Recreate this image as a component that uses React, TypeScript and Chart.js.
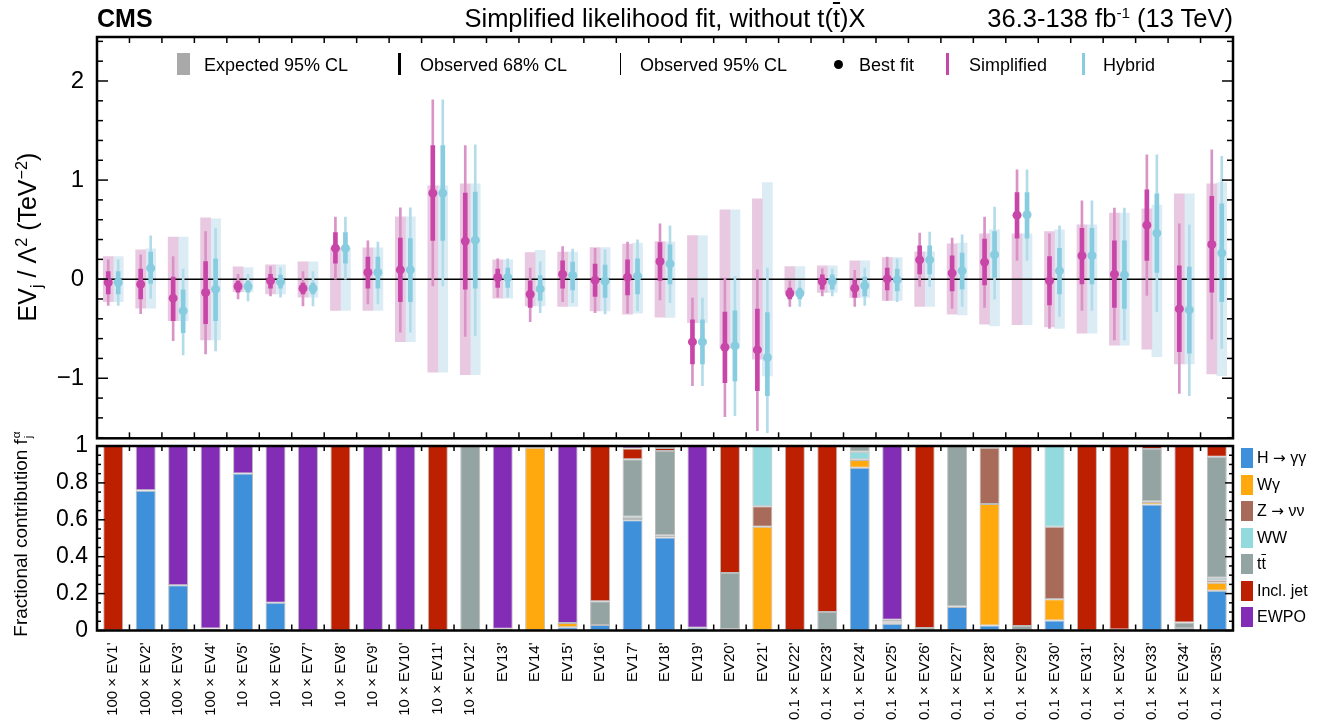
import React, { useEffect, useRef } from 'react';
import { Chart, registerables } from 'chart.js';
Chart.register(...registerables);

const FONT = "'Liberation Sans', Arial, Helvetica, sans-serif";

const LABELS = [
  "100 × EV1'", "100 × EV2'", "100 × EV3'", "100 × EV4'",
  "10 × EV5'", "10 × EV6'", "10 × EV7'", "10 × EV8'", "10 × EV9'", "10 × EV10'", "10 × EV11'", "10 × EV12'",
  "EV13'", "EV14'", "EV15'", "EV16'", "EV17'", "EV18'", "EV19'", "EV20'", "EV21'",
  "0.1 × EV22'", "0.1 × EV23'", "0.1 × EV24'", "0.1 × EV25'", "0.1 × EV26'", "0.1 × EV27'", "0.1 × EV28'",
  "0.1 × EV29'", "0.1 × EV30'", "0.1 × EV31'", "0.1 × EV32'", "0.1 × EV33'", "0.1 × EV34'", "0.1 × EV35'",
];

// ---- Upper panel: Simplified likelihood ----
const SIMP_BEST = [-0.034, -0.051, -0.192, -0.135, -0.074, -0.017, -0.094, 0.313, 0.067, 0.094, 0.869, 0.384, 0.017, -0.152, 0.05, -0.01, 0.02, 0.178, -0.633, -0.687, -0.714, -0.145, -0.024, -0.091, 0.003, 0.195, 0.061, 0.172, 0.646, -0.017, 0.236, 0.05, 0.545, -0.30, 0.35];
const SIMP_68_LO = [-0.148, -0.199, -0.418, -0.448, -0.13, -0.09, -0.15, 0.162, -0.091, -0.226, 0.391, -0.101, -0.084, -0.286, -0.091, -0.175, -0.158, -0.013, -0.855, -1.044, -1.125, -0.199, -0.101, -0.185, -0.108, 0.054, -0.118, -0.057, 0.414, -0.259, -0.047, -0.286, 0.189, -0.731, -0.131];
const SIMP_68_HI = [0.077, 0.101, 0.02, 0.178, -0.02, 0.05, -0.04, 0.471, 0.222, 0.414, 1.347, 0.869, 0.101, -0.017, 0.185, 0.152, 0.195, 0.37, -0.411, -0.333, -0.303, -0.091, 0.044, -0.007, 0.111, 0.337, 0.236, 0.404, 0.875, 0.229, 0.512, 0.387, 0.902, 0.135, 0.835];
const SIMP_95_LO = [-0.266, -0.347, -0.62, -0.754, -0.199, -0.168, -0.269, 0.0, -0.249, -0.535, -0.067, -0.579, -0.182, -0.428, -0.226, -0.337, -0.343, -0.209, -1.074, -1.387, -1.529, -0.276, -0.168, -0.276, -0.215, -0.074, -0.296, -0.286, 0.189, -0.498, -0.316, -0.613, -0.165, -1.152, -0.606];
const SIMP_95_HI = [0.195, 0.246, 0.229, 0.481, 0.05, 0.128, 0.077, 0.627, 0.387, 0.72, 1.811, 1.347, 0.205, 0.111, 0.33, 0.31, 0.374, 0.559, -0.192, 0.01, 0.094, -0.017, 0.104, 0.088, 0.222, 0.465, 0.414, 0.626, 1.104, 0.458, 0.791, 0.717, 1.256, 0.559, 1.306];
const SIMP_EXP_LO = [-0.226, -0.293, -0.418, -0.613, -0.125, -0.148, -0.182, -0.316, -0.316, -0.63, -0.939, -0.963, -0.192, -0.269, -0.276, -0.32, -0.354, -0.384, -0.438, -0.70, -0.808, -0.135, -0.135, -0.185, -0.215, -0.276, -0.354, -0.455, -0.458, -0.481, -0.545, -0.667, -0.707, -0.855, -0.956];
const SIMP_EXP_HI = [0.229, 0.296, 0.424, 0.62, 0.125, 0.145, 0.175, 0.316, 0.316, 0.63, 0.943, 0.963, 0.195, 0.269, 0.273, 0.32, 0.354, 0.38, 0.441, 0.70, 0.811, 0.128, 0.135, 0.185, 0.219, 0.276, 0.357, 0.458, 0.458, 0.481, 0.549, 0.667, 0.71, 0.862, 0.963];

// ---- Upper panel: Hybrid likelihood ----
const HYB_BEST = [-0.034, 0.111, -0.32, -0.101, -0.074, -0.027, -0.094, 0.313, 0.067, 0.094, 0.869, 0.394, 0.017, -0.098, 0.037, -0.02, 0.03, 0.155, -0.633, -0.673, -0.791, -0.145, -0.024, -0.067, -0.007, 0.195, 0.084, 0.246, 0.65, 0.084, 0.236, 0.044, 0.465, -0.31, 0.263];
const HYB_68_LO = [-0.148, -0.044, -0.539, -0.418, -0.13, -0.09, -0.15, 0.162, -0.091, -0.226, 0.391, -0.091, -0.084, -0.215, -0.108, -0.185, -0.148, -0.047, -0.855, -1.027, -1.175, -0.199, -0.101, -0.168, -0.118, 0.054, -0.098, 0.017, 0.414, -0.148, -0.047, -0.296, 0.067, -0.747, -0.226];
const HYB_68_HI = [0.077, 0.273, -0.108, 0.205, -0.02, 0.04, -0.04, 0.471, 0.222, 0.41, 1.347, 0.879, 0.111, 0.037, 0.172, 0.141, 0.205, 0.347, -0.411, -0.32, -0.337, -0.091, 0.044, 0.02, 0.101, 0.337, 0.263, 0.481, 0.875, 0.31, 0.512, 0.387, 0.862, 0.121, 0.761];
const HYB_95_LO = [-0.266, -0.192, -0.764, -0.724, -0.22, -0.182, -0.269, 0.0, -0.249, -0.535, -0.067, -0.569, -0.182, -0.337, -0.236, -0.35, -0.32, -0.236, -1.074, -1.377, -1.55, -0.276, -0.168, -0.266, -0.226, -0.074, -0.276, -0.202, 0.189, -0.377, -0.316, -0.613, -0.327, -1.175, -0.70];
const HYB_95_HI = [0.195, 0.438, 0.101, 0.515, 0.05, 0.118, 0.077, 0.627, 0.374, 0.72, 1.811, 1.357, 0.205, 0.175, 0.303, 0.296, 0.397, 0.539, -0.192, 0.027, 0.111, -0.017, 0.104, 0.111, 0.205, 0.475, 0.448, 0.727, 1.104, 0.539, 0.791, 0.717, 1.256, 0.549, 1.239];
const HYB_EXP_LO = [-0.226, -0.293, -0.418, -0.613, -0.125, -0.148, -0.182, -0.316, -0.316, -0.63, -0.939, -0.963, -0.192, -0.269, -0.276, -0.32, -0.343, -0.387, -0.438, -0.70, -0.976, -0.135, -0.135, -0.185, -0.215, -0.276, -0.36, -0.471, -0.458, -0.498, -0.545, -0.667, -0.781, -0.855, -0.973];
const HYB_EXP_HI = [0.229, 0.306, 0.424, 0.61, 0.118, 0.145, 0.175, 0.316, 0.316, 0.63, 0.943, 0.963, 0.195, 0.29, 0.273, 0.32, 0.364, 0.374, 0.441, 0.70, 0.976, 0.128, 0.135, 0.185, 0.219, 0.276, 0.364, 0.498, 0.458, 0.498, 0.549, 0.667, 0.747, 0.862, 0.976];

// ---- Lower panel: fractional contributions ----
const F_HGG = [0, 0.757, 0.245, 0.009, 0.851, 0.150, 0, 0, 0, 0, 0, 0, 0, 0.003, 0.018, 0.030, 0.598, 0.504, 0.015, 0.007, 0.003, 0, 0, 0.882, 0.036, 0, 0.127, 0.027, 0, 0.054, 0, 0, 0.683, 0.013, 0.216];
const F_WG = [0, 0, 0, 0, 0, 0, 0, 0, 0, 0.003, 0, 0, 0, 0.987, 0.022, 0, 0.007, 0.003, 0, 0, 0.559, 0, 0, 0.042, 0.009, 0, 0, 0.658, 0, 0.116, 0, 0, 0.014, 0, 0.043];
const F_ZNN = [0, 0, 0, 0, 0, 0, 0, 0, 0, 0, 0, 0, 0, 0, 0, 0, 0, 0, 0, 0, 0.112, 0, 0, 0.004, 0, 0, 0, 0.306, 0, 0.392, 0, 0, 0.004, 0, 0.013];
const F_WW = [0, 0, 0, 0, 0, 0, 0, 0, 0, 0, 0, 0, 0, 0, 0, 0, 0.011, 0.009, 0, 0, 0.326, 0, 0, 0.041, 0.005, 0, 0.003, 0.009, 0, 0.438, 0, 0, 0, 0, 0.014];
const F_TT = [0, 0.003, 0, 0.002, 0, 0, 0, 0, 0, 0, 0, 1.0, 0.009, 0, 0, 0.128, 0.312, 0.457, 0, 0.305, 0, 0, 0.10, 0.031, 0.008, 0.013, 0.87, 0, 0.024, 0, 0, 0.005, 0.283, 0.03, 0.656];
const F_JET = [1, 0, 0, 0, 0, 0, 0, 1, 0, 0, 1, 0, 0, 0, 0, 0.842, 0.058, 0.016, 0, 0.688, 0, 1, 0.9, 0, 0, 0.987, 0, 0, 0.976, 0, 1, 0.995, 0.016, 0.957, 0.058];
const F_EWPO = [0, 0.24, 0.755, 0.989, 0.149, 0.85, 1, 0, 1, 0.997, 0, 0, 0.991, 0.01, 0.96, 0, 0.014, 0.011, 0.985, 0, 0, 0, 0, 0, 0.942, 0, 0, 0, 0, 0, 0, 0, 0, 0, 0];

const SOURCES = ['H → γγ', 'Wγ', 'Z → νν', 'WW', 'tt̄', 'Incl. jet', 'EWPO'];
const SOURCE_VALUES = [F_HGG, F_WG, F_ZNN, F_WW, F_TT, F_JET, F_EWPO];
const SOURCE_COLORS = ['#3f90da', '#ffa90e', '#a96b59', '#92dadd', '#94a4a2', '#bd1f01', '#832db6'];

const TOP_Y_MIN = -1.606;
const TOP_Y_MAX = 2.444;

const PINK = '#c846a8';
const PINK_THIN = '#d993c6';
const PINK_BOX = '#e9c9e1';
const BLUE = '#88cce0';
const BLUE_THIN = '#b3dcea';
const BLUE_BOX = '#dcecf4';
const CAT_PCT = 0.616;
// horizontal offset (in category units) of the Simplified / Hybrid columns
const SIDE_OFF = CAT_PCT / 4;

function drawTick(ctx: CanvasRenderingContext2D, x1: number, y1: number, x2: number, y2: number) {
  ctx.beginPath();
  ctx.moveTo(x1, y1);
  ctx.lineTo(x2, y2);
  ctx.stroke();
}

const topDecor = {
  id: 'topDecor',
  afterDatasetDraw(chart: any, args: any) {
    if (args.index !== 6) return;
    const { ctx, chartArea: a } = chart;
    const y0 = chart.scales.y.getPixelForValue(0);
    ctx.save();
    ctx.strokeStyle = '#000';
    ctx.lineWidth = 1.5;
    drawTick(ctx, a.left, y0, a.right, y0);
    ctx.restore();
  },
  afterDraw(chart: any) {
    const { ctx, chartArea: a } = chart;
    const ys = chart.scales.y;
    const xs = chart.scales.x;
    ctx.save();
    ctx.strokeStyle = '#000';
    ctx.lineWidth = 1.5;
    for (let k = 1; k < LABELS.length; k++) {
      const px = xs.getPixelForValue(k + 0.5);
      drawTick(ctx, px, a.bottom, px, a.bottom - 6);
      drawTick(ctx, px, a.top, px, a.top + 6);
    }
    for (let n = Math.ceil(TOP_Y_MIN / 0.2); n * 0.2 <= TOP_Y_MAX; n++) {
      const py = ys.getPixelForValue(n * 0.2);
      const L = n % 5 === 0 ? 11 : 6;
      drawTick(ctx, a.left, py, a.left + L, py);
      drawTick(ctx, a.right, py, a.right - L, py);
    }
    ctx.lineWidth = 2.5;
    ctx.strokeRect(a.left, a.top, a.right - a.left, a.bottom - a.top);
    ctx.restore();
  },
};

const botDecor = {
  id: 'botDecor',
  afterDraw(chart: any) {
    const { ctx, chartArea: a } = chart;
    const ys = chart.scales.y;
    const xs = chart.scales.x;
    ctx.save();
    ctx.strokeStyle = '#000';
    ctx.lineWidth = 1.5;
    for (let k = 0; k < LABELS.length - 1; k++) {
      const px = xs.getPixelForValue(k + 0.5);
      drawTick(ctx, px, a.bottom, px, a.bottom - 6);
      drawTick(ctx, px, a.top, px, a.top + 5);
    }
    for (let n = 0; n <= 20; n++) {
      const py = ys.getPixelForValue(n * 0.05);
      const L = n % 4 === 0 ? 8 : 4;
      drawTick(ctx, a.left, py, a.left + L, py);
      drawTick(ctx, a.right, py, a.right - L, py);
    }
    ctx.lineWidth = 2.5;
    ctx.strokeRect(a.left, a.top, a.right - a.left, a.bottom - a.top);
    ctx.restore();
  },
};

const zeroPad = (s: any) => {
  s.paddingTop = 0;
  s.paddingBottom = 0;
  s.paddingLeft = 0;
  s.paddingRight = 0;
};

function topConfig(): any {
  const pts = (vals: number[], off: number) => vals.map((v, i) => ({ x: i + 1 + off, y: v }));
  const spans = (lo: number[], hi: number[], off: number) => lo.map((l, i) => ({ x: i + 1 + off, y: [l, hi[i]] }));
  const barDs = (data: any[], color: string, thickness: number, order: number) => ({
    type: 'bar', data, backgroundColor: color, borderWidth: 0, grouped: false,
    barThickness: thickness, order, xAxisID: 'x', yAxisID: 'y',
  });
  const ptDs = (data: any[], color: string) => ({
    type: 'line', data, xAxisID: 'x', yAxisID: 'y', showLine: false,
    pointRadius: 4.5, pointHoverRadius: 4.5, pointBackgroundColor: color, pointBorderWidth: 0, order: 0,
  });
  return {
    type: 'bar',
    data: {
      datasets: [
        ptDs(pts(SIMP_BEST, -SIDE_OFF), PINK),
        ptDs(pts(HYB_BEST, SIDE_OFF), BLUE),
        barDs(spans(SIMP_68_LO, SIMP_68_HI, -SIDE_OFF), PINK, 4, 1),
        barDs(spans(HYB_68_LO, HYB_68_HI, SIDE_OFF), BLUE, 4, 1),
        barDs(spans(SIMP_95_LO, SIMP_95_HI, -SIDE_OFF), PINK_THIN, 2, 2),
        barDs(spans(HYB_95_LO, HYB_95_HI, SIDE_OFF), BLUE_THIN, 2, 2),
        barDs(spans(SIMP_EXP_LO, SIMP_EXP_HI, -SIDE_OFF), PINK_BOX, 10, 3),
        barDs(spans(HYB_EXP_LO, HYB_EXP_HI, SIDE_OFF), BLUE_BOX, 10, 3),
      ],
    },
    options: {
      animation: false, responsive: false, devicePixelRatio: 1, events: [],
      layout: { padding: { top: 37, right: 87, left: 0, bottom: 6.7 } },
      plugins: { legend: { display: false }, tooltip: { enabled: false } },
      scales: {
        x: {
          type: 'linear', min: 0.5, max: LABELS.length + 0.5, offset: false, display: false,
          grid: { offset: false },
        },
        y: {
          type: 'linear', min: TOP_Y_MIN, max: TOP_Y_MAX, stacked: false,
          grid: { display: false, drawTicks: false }, border: { display: false },
          ticks: {
            stepSize: 1, includeBounds: false, padding: 13, color: '#000',
            font: { family: FONT, size: 24 },
            callback: (v: number) => (v < 0 ? '\u2212' + Math.abs(v) : String(v)),
          },
          afterFit: (s: any) => { s.width = 97; zeroPad(s); },
        },
      },
    },
    plugins: [topDecor],
  };
}

function botConfig(): any {
  return {
    type: 'bar',
    data: {
      labels: LABELS,
      datasets: SOURCES.map((name, k) => ({
        label: name,
        data: SOURCE_VALUES[k].map((v) => (v === 0 ? null : v)),
        backgroundColor: SOURCE_COLORS[k],
        borderColor: 'rgba(175,175,175,0.85)',
        borderWidth: 1,
        borderSkipped: false,
        categoryPercentage: CAT_PCT,
        barPercentage: 1,
      })),
    },
    options: {
      animation: false, responsive: false, devicePixelRatio: 1, events: [],
      layout: { padding: { top: 26, right: 87, left: 0, bottom: 0 } },
      plugins: { legend: { display: false }, tooltip: { enabled: false } },
      scales: {
        x: {
          stacked: true, grid: { display: false, drawTicks: false }, border: { display: false },
          ticks: { autoSkip: false, minRotation: 90, maxRotation: 90, padding: 12, color: '#000', font: { family: FONT, size: 15 } },
          afterFit: (s: any) => { s.height = 96.5; zeroPad(s); },
        },
        y: {
          stacked: true, min: 0, max: 1,
          grid: { display: false, drawTicks: false }, border: { display: false },
          ticks: {
            stepSize: 0.2, padding: 9, color: '#000', font: { family: FONT, size: 23 },
            callback: (v: number) => String(Math.round(v * 10) / 10),
          },
          afterFit: (s: any) => { s.width = 97; zeroPad(s); },
        },
      },
    },
    plugins: [botDecor],
  };
}

const abs = (o: any): React.CSSProperties => ({ position: 'absolute', ...o });
const legText = (left: number): React.CSSProperties => abs({ left, top: 54, fontSize: 18, lineHeight: '22px', whiteSpace: 'nowrap' });
const bar = (left: number, width: number, color: string): React.CSSProperties => abs({ left, top: 53, width, height: 22, background: color });
const over = (t: string) => <span style={{ textDecoration: 'overline' }}>{t}</span>;
const arrow = <span style={{ fontFamily: "'DejaVu Sans', sans-serif", fontSize: '0.95em' }}>→</span>;

function sourceLabel(name: string) {
  if (name === 'tt̄') return <>t{over('t')}</>;
  if (name.includes('→')) {
    const [a, b] = name.split('→');
    return <>{a}{arrow}{b}</>;
  }
  return name;
}

export default function App() {
  const topRef = useRef<HTMLCanvasElement>(null);
  const botRef = useRef<HTMLCanvasElement>(null);

  useEffect(() => {
    const top = new Chart(topRef.current as HTMLCanvasElement, topConfig());
    const bot = new Chart(botRef.current as HTMLCanvasElement, botConfig());
    return () => {
      top.destroy();
      bot.destroy();
    };
  }, []);

  return (
    <div style={abs({ left: 0, top: 0, width: 1320, height: 727, background: '#fff', fontFamily: FONT, color: '#000', overflow: 'hidden' })}>
      <canvas ref={topRef} width={1320} height={445} style={abs({ left: 0, top: 0, width: 1320, height: 445 })} />
      <canvas ref={botRef} width={1320} height={307} style={abs({ left: 0, top: 420, width: 1320, height: 307 })} />

      <div style={abs({ left: 97, top: 4, fontSize: 25, fontWeight: 'bold', lineHeight: '28px' })}>CMS</div>
      <div style={abs({ left: 97, width: 1136, top: 4, fontSize: 25.5, lineHeight: '28px', textAlign: 'center', whiteSpace: 'nowrap' })}>
        Simplified likelihood fit, without t({over('t')})X
      </div>
      <div style={abs({ left: 0, width: 1233, top: 4, fontSize: 25.5, lineHeight: '28px', textAlign: 'right', whiteSpace: 'nowrap' })}>
        36.3-138 fb<sup style={{ fontSize: '0.6em', lineHeight: 0 }}>-1</sup> (13 TeV)
      </div>

      <div style={bar(177, 13, '#a9a9a9')} />
      <div style={legText(204)}>Expected 95% CL</div>
      <div style={bar(398, 3, '#000')} />
      <div style={legText(420)}>Observed 68% CL</div>
      <div style={bar(619.5, 1.5, '#000')} />
      <div style={legText(640)}>Observed 95% CL</div>
      <div style={abs({ left: 833.5, top: 59.5, width: 9, height: 9, borderRadius: '50%', background: '#000' })} />
      <div style={legText(859)}>Best fit</div>
      <div style={bar(946, 3, PINK)} />
      <div style={legText(969)}>Simplified</div>
      <div style={bar(1082, 3, BLUE)} />
      <div style={legText(1103)}>Hybrid</div>

      <div style={abs({ left: 27, top: 237, transform: 'translate(-50%, -50%) rotate(-90deg)', fontSize: 25, whiteSpace: 'nowrap', lineHeight: '28px' })}>
        EV<sub style={{ fontSize: '0.65em', lineHeight: 0 }}>j</sub> / Λ<sup style={{ fontSize: '0.65em', lineHeight: 0 }}>2</sup> (TeV<sup style={{ fontSize: '0.65em', lineHeight: 0 }}>−2</sup>)
      </div>
      <div style={abs({ left: 21, top: 534, transform: 'translate(-50%, -50%) rotate(-90deg)', fontSize: 19, whiteSpace: 'nowrap', lineHeight: '24px' })}>
        Fractional contribution f
        <span style={{ display: 'inline-flex', flexDirection: 'column', fontSize: '0.62em', lineHeight: 1, verticalAlign: 'middle', marginLeft: 1 }}>
          <span>α</span>
          <span>j</span>
        </span>
      </div>

      {SOURCES.map((name, k) => (
        <React.Fragment key={name}>
          <div style={abs({ left: 1241, top: 448 + k * 26.5, width: 12, height: 20, background: SOURCE_COLORS[k] })} />
          <div style={abs({ left: 1257, top: 448 + k * 26.5, fontSize: 16, lineHeight: '20px', whiteSpace: 'nowrap' })}>
            {sourceLabel(name)}
          </div>
        </React.Fragment>
      ))}
    </div>
  );
}
